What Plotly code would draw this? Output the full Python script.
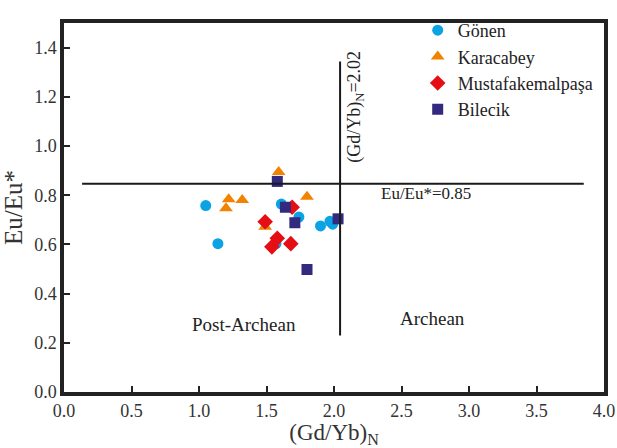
import plotly.graph_objects as go

# Data
gonen_x = [1.05, 1.14, 1.61, 1.74, 1.90, 1.97, 1.99, 1.57]
gonen_y = [0.758, 0.603, 0.764, 0.711, 0.675, 0.694, 0.682, 0.603]

kara_x = [1.59, 1.22, 1.20, 1.32, 1.80, 1.49]
kara_y = [0.894, 0.784, 0.747, 0.780, 0.794, 0.672]

musta_x = [1.49, 1.58, 1.54, 1.68, 1.69]
musta_y = [0.692, 0.625, 0.590, 0.603, 0.751]

bil_x = [1.58, 1.64, 1.71, 2.03, 1.80]
bil_y = [0.856, 0.751, 0.688, 0.704, 0.498]

x_ticks = [0.0, 0.5, 1.0, 1.5, 2.0, 2.5, 3.0, 3.5, 4.0]
y_ticks = [0.0, 0.2, 0.4, 0.6, 0.8, 1.0, 1.2, 1.4]

eu_line = 0.847        # Eu/Eu* = 0.85 boundary as drawn
gdyb_line = 2.045      # (Gd/Yb)N = 2.02 boundary as drawn

FONT = "Liberation Serif, Times New Roman, serif"

fig = go.Figure()
series = [
    ("Gönen", gonen_x, gonen_y, "circle", "#0BA3E3", 11),
    ("Karacabey", kara_x, kara_y, "triangle-up", "#F28200", 12),
    ("Mustafakemalpaşa", musta_x, musta_y, "diamond", "#E50E14", 12),
    ("Bilecik", bil_x, bil_y, "square", "#33297F", 11),
]
for name, xs, ys, sym, col, sz in series:
    fig.add_trace(go.Scatter(
        x=xs, y=ys, mode="markers", name=name,
        marker=dict(symbol=sym, color=col, size=sz, line=dict(width=0)),
    ))

fig.add_shape(type="line", x0=0.134, x1=3.85, y0=eu_line, y1=eu_line,
              line=dict(color="#1a1a1a", width=2))
fig.add_shape(type="line", x0=gdyb_line, x1=gdyb_line, y0=0.23, y1=1.343,
              line=dict(color="#1a1a1a", width=2))

fig.add_annotation(x=2.68, y=0.808, text="Eu/Eu*=0.85", showarrow=False,
                   font=dict(family=FONT, size=17, color="#222"))
fig.add_annotation(x=2.16, y=1.158, text="(Gd/Yb)<sub>N</sub>=2.02", showarrow=False,
                   textangle=-90, font=dict(family=FONT, size=18, color="#222"))
fig.add_annotation(x=1.33, y=0.274, text="Post-Archean", showarrow=False,
                   font=dict(family=FONT, size=19, color="#222"))
fig.add_annotation(x=2.73, y=0.30, text="Archean", showarrow=False,
                   font=dict(family=FONT, size=19, color="#222"))

fig.update_xaxes(
    range=[0, 4], tickvals=x_ticks, ticktext=[f"{v:.1f}" for v in x_ticks],
    ticks="inside", ticklen=6, tickwidth=1.5, tickcolor="#222",
    showline=True, linewidth=3.5, linecolor="#222", mirror=True,
    showgrid=False, zeroline=False, automargin=False,
    tickfont=dict(family=FONT, size=18, color="#333"),
    title=dict(text="(Gd/Yb)<sub>N</sub>", font=dict(family=FONT, size=23, color="#333"), standoff=4),
)
fig.update_yaxes(
    range=[0, 1.5], tickvals=y_ticks, ticktext=[f"{v:.1f}" for v in y_ticks],
    ticks="inside", ticklen=6, tickwidth=1.5, tickcolor="#222",
    showline=True, linewidth=3.5, linecolor="#222", mirror=True,
    showgrid=False, zeroline=False, automargin=False,
    tickfont=dict(family=FONT, size=18, color="#333"),
    title=dict(text="Eu/Eu*", font=dict(family=FONT, size=25, color="#333"), standoff=6),
)

fig.update_layout(
    width=617, height=448,
    font=dict(family=FONT),
    margin=dict(l=64, r=13, t=12, b=56),
    paper_bgcolor="white", plot_bgcolor="white",
    showlegend=True,
    legend=dict(x=0.655, y=1.03, xanchor="left", yanchor="top",
                font=dict(family=FONT, size=18, color="#222"),
                bgcolor="rgba(0,0,0,0)", itemwidth=30, tracegroupgap=0),
)

fig.write_html("out.html", config={"displayModeBar": False},
               post_script="document.body.style.margin='0';document.body.style.overflow='hidden';")
